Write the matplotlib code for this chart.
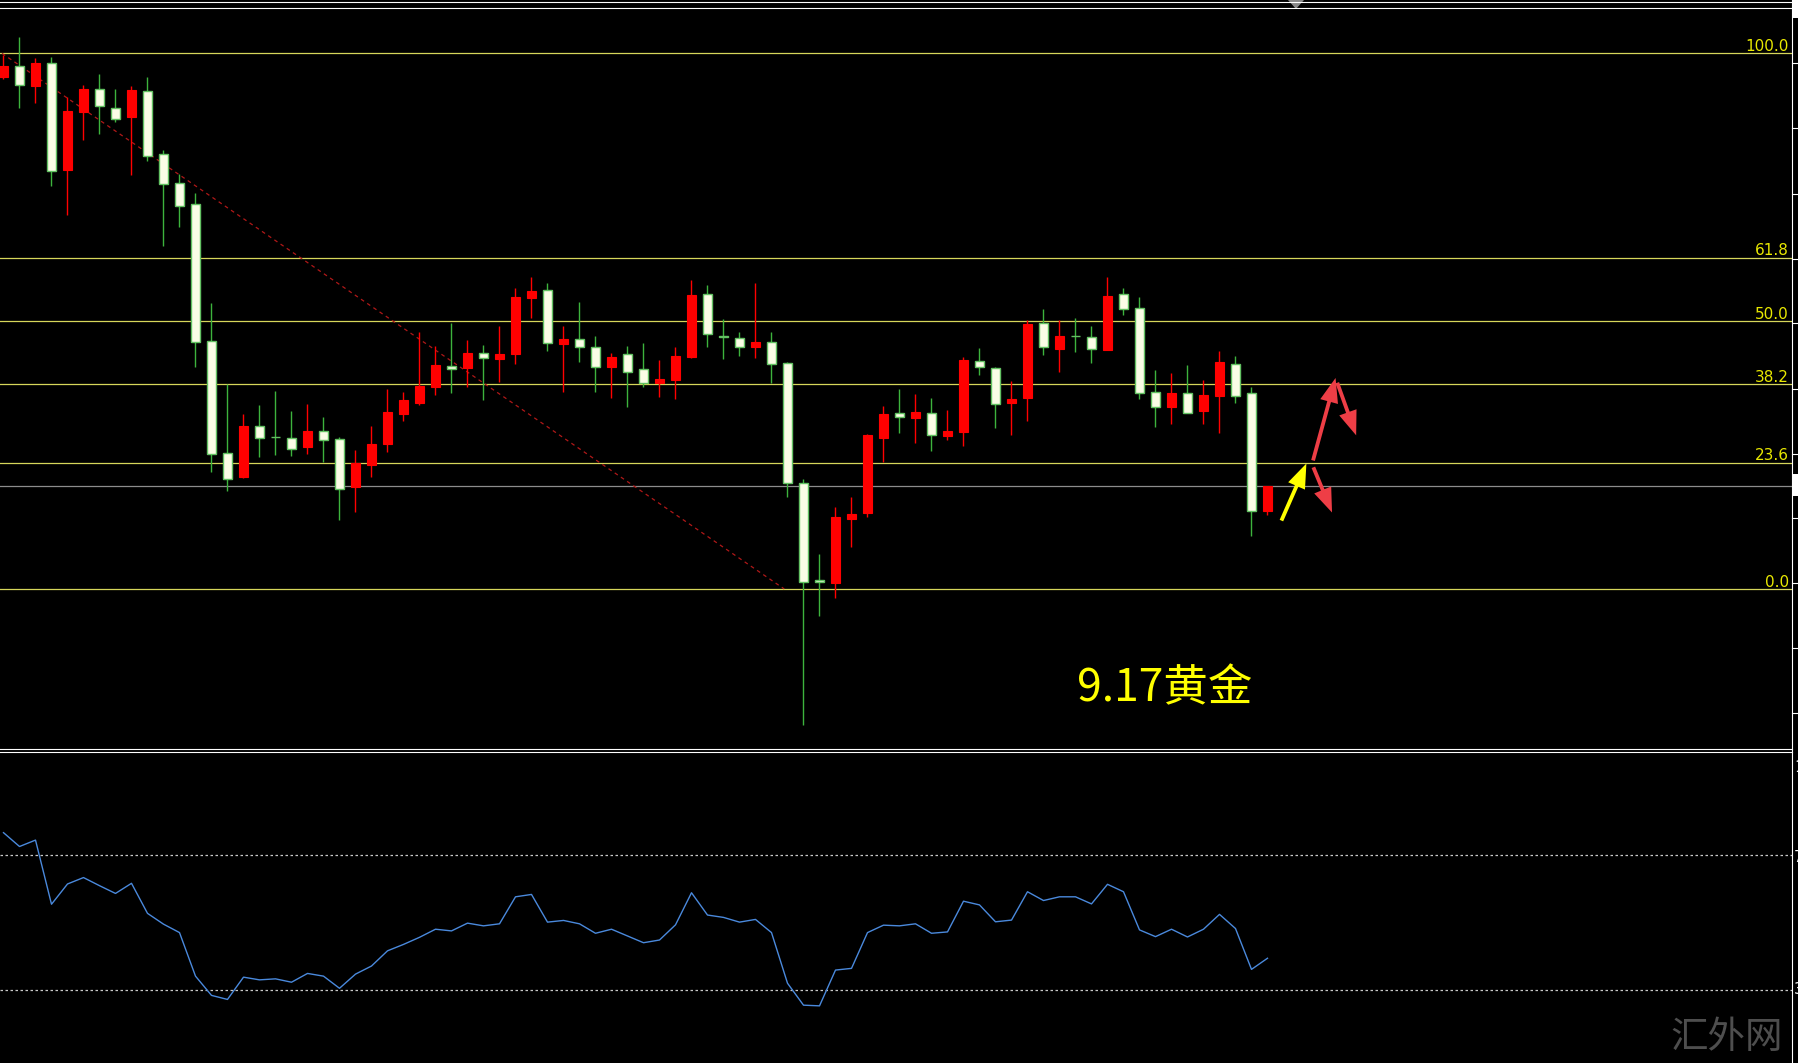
import matplotlib
matplotlib.use("Agg")
import matplotlib.pyplot as plt
from matplotlib.lines import Line2D
from matplotlib.patches import Rectangle, Polygon, FancyArrowPatch
import numpy as np

# ---------------- data (price expressed in Fibonacci-% units) ----------------
open_ = [95.6, 97.6, 94.0, 98.3, 78.2, 89.0, 93.4, 89.8, 88.1, 92.9,
         81.3, 75.8, 71.9, 46.3, 25.3, 20.9, 30.4, 28.4, 28.2, 26.5,
         29.5, 28.0, 19.0, 23.2, 27.1, 32.7, 34.8, 37.8, 41.6, 41.3,
         44.1, 43.0, 43.9, 54.4, 55.8, 45.8, 46.7, 45.2, 41.5, 43.9,
         41.1, 38.5, 39.0, 43.4, 55.1, 47.3, 46.9, 45.2, 46.1, 42.2,
         19.8, 1.7, 1.2, 13.1, 14.2, 28.2, 32.9, 32.0, 32.9, 28.6,
         29.4, 42.6, 41.3, 34.8, 35.7, 49.7, 44.8, 47.3, 47.1, 44.6,
         55.1, 52.5, 36.8, 33.9, 36.6, 33.3, 36.0, 42.0, 36.6, 14.6]
high = [99.7, 103.1, 99.1, 99.3, 91.9, 94.1, 96.2, 93.4, 93.9, 95.6,
        82.0, 77.5, 73.9, 53.4, 38.3, 32.7, 34.4, 37.0, 33.2, 34.5,
        32.1, 28.4, 26.0, 30.4, 37.3, 36.8, 48.0, 45.4, 49.7, 46.5,
        45.6, 49.1, 56.2, 58.3, 57.2, 49.1, 53.5, 47.2, 44.1, 45.4,
        46.0, 42.8, 45.2, 57.6, 56.8, 50.4, 48.0, 57.1, 47.9, 42.4,
        20.5, 6.5, 15.3, 17.2, 29.0, 34.2, 37.3, 36.4, 35.7, 33.4,
        43.3, 45.0, 41.4, 38.9, 50.2, 52.3, 50.2, 50.6, 49.1, 58.3,
        56.2, 54.5, 40.9, 40.4, 41.8, 39.0, 44.5, 43.5, 37.7, 19.2]
low = [95.2, 89.8, 90.7, 75.2, 69.8, 83.8, 85.0, 87.1, 77.3, 79.9,
       64.0, 67.6, 41.4, 21.8, 18.3, 20.7, 24.6, 25.0, 24.8, 25.2,
       23.7, 12.9, 14.3, 20.9, 25.6, 31.4, 34.4, 36.2, 36.6, 37.8,
       35.2, 38.7, 42.0, 50.6, 44.5, 36.8, 42.4, 36.8, 35.7, 34.0,
       37.7, 35.9, 35.5, 43.1, 45.2, 42.9, 43.5, 43.1, 38.5, 17.2,
       -25.4, -5.0, -1.6, 7.9, 13.5, 23.7, 29.2, 27.3, 25.8, 27.8,
       26.7, 40.0, 30.1, 28.8, 31.4, 43.7, 40.5, 44.3, 42.2, 44.6,
       51.2, 35.5, 30.2, 30.8, 32.9, 30.8, 29.2, 34.7, 9.9, 13.8]
close = [97.6, 94.1, 98.3, 78.0, 89.2, 93.4, 90.2, 87.8, 93.2, 80.9,
         75.6, 71.6, 46.1, 25.2, 20.5, 30.4, 28.2, 28.3, 26.1, 29.5,
         27.8, 18.7, 23.6, 27.1, 33.0, 35.3, 37.9, 41.8, 41.0, 44.1,
         43.1, 43.9, 54.6, 55.7, 45.9, 46.7, 45.2, 41.5, 43.4, 40.6,
         38.5, 39.2, 43.5, 54.9, 47.6, 47.0, 45.2, 46.1, 42.0, 19.8,
         1.4, 1.3, 13.5, 14.0, 28.8, 32.7, 32.1, 33.0, 28.8, 29.5,
         42.8, 41.4, 34.5, 35.5, 49.5, 45.2, 47.2, 47.2, 44.8, 54.7,
         52.3, 36.6, 34.0, 36.6, 32.9, 36.2, 42.3, 36.1, 14.6, 19.2]
rsi = [76.6, 72.5, 74.4, 55.4, 61.4, 63.3, 60.9, 58.6, 61.6, 52.7,
       49.5, 47.0, 34.1, 28.4, 27.2, 33.8, 33.0, 33.3, 32.3, 34.9,
       34.1, 30.5, 34.7, 37.1, 41.6, 43.5, 45.6, 48.0, 47.5, 49.8,
       49.0, 49.6, 57.6, 58.3, 50.1, 50.6, 49.6, 46.8, 48.0, 46.0,
       44.0, 44.8, 49.3, 58.8, 52.2, 51.5, 50.1, 50.9, 47.0, 32.0,
       25.5, 25.3, 35.9, 36.4, 47.0, 49.2, 49.0, 49.6, 46.8, 47.2,
       56.3, 55.2, 50.2, 50.7, 59.1, 56.5, 57.6, 57.6, 55.5, 61.3,
       59.1, 47.8, 45.8, 48.0, 45.7, 48.0, 52.4, 48.2, 36.1, 39.4]
fib_levels = [100.0, 61.8, 50.0, 38.2, 23.6, 0.0]
fib_labels = ["100.0", "61.8", "50.0", "38.2", "23.6", "0.0"]
rsi_levels = [70, 30]
title_text = "9.17黄金"
watermark = "汇外网"

# ---------------- figure ----------------
W, H = 1799, 1063
fig = plt.figure(figsize=(W / 100, H / 100), dpi=100, facecolor="black")


def fx(x):
    return x / W


def fy(y):
    return 1 - y / H


AX_RIGHT = 1792
ax = fig.add_axes([0, fy(748), fx(AX_RIGHT), (748 - 10) / H])
axr = fig.add_axes([0, fy(1063), fx(AX_RIGHT), (1063 - 753) / H])
for a in (ax, axr):
    a.set_facecolor("black")
    for s in a.spines.values():
        s.set_visible(False)
    a.set_xticks([])
    a.set_yticks([])

xmin, xmax = -3.5 / 16, (AX_RIGHT - 3.5) / 16
ax.set_xlim(xmin, xmax)
ax.set_ylim((589 - 748) / 5.356, (589 - 10) / 5.356)
axr.set_xlim(xmin, xmax)
axr.set_ylim(8.37, 100.2)

o = np.array(open_)
c = np.array(close)
hi = np.array(high)
lo = np.array(low)
x = np.arange(len(o))
bull = c > o
bear = ~bull

# fib lines
for lev, lab in zip(fib_levels, fib_labels):
    ax.axhline(lev, color="#d6d65a", lw=0.9, zorder=1)
    ax.annotate(lab, xy=(1, lev), xycoords=("axes fraction", "data"),
                xytext=(-3, 2.5), textcoords="offset pixels",
                ha="right", va="baseline", color="#e8e800", fontsize=11,
                family="DejaVu Sans")

# dashed diagonal of the fib tool
ax.plot([-0.09, 48.8], [100, 0], color="#b01818", lw=0.9,
        ls=(0, (3, 3)), zorder=2)

# current price line
ax.axhline(c[-1], color="#8c8c8c", lw=0.9, zorder=1)

# wicks
ax.vlines(x[bull], lo[bull], hi[bull], color="#ff0000", lw=1.0, zorder=3)
ax.vlines(x[bear], lo[bear], hi[bear], color="#3db33d", lw=1.0, zorder=3)
# bodies
bw = 0.62
ax.bar(x[bull], (c - o)[bull], bottom=o[bull], width=bw,
       color="#ff0000", edgecolor="#ff0000", lw=0.8, zorder=4)
ax.bar(x[bear], (o - c)[bear], bottom=c[bear], width=bw,
       color="#fbfde6", edgecolor="#62c162", lw=1.0, zorder=4)

# arrows (hand drawn annotations)
def arrow(p0, p1, col):
    ap = FancyArrowPatch(p0, p1, arrowstyle="simple,head_length=1.6,head_width=1.2,tail_width=0.25",
                         mutation_scale=11, color=col, lw=0, zorder=6)
    ax.add_patch(ap)

arrow((79.8, 12.3), (81.5, 23.9), "#ffff00")
arrow((81.8, 23.5), (83.3, 39.9), "#ee3e46")
arrow((83.3, 39.0), (84.6, 28.2), "#ee3e46")
arrow((81.8, 23.2), (83.1, 13.8), "#ee3e46")

fig.text(fx(1077), fy(701), title_text, color="#ffff00", fontsize=32,
         family=["Noto Sans CJK SC", "DejaVu Sans"], ha="left", va="baseline")

# RSI panel
for lv in rsi_levels:
    axr.axhline(lv, color="#c8c8c8", lw=0.9, ls=(0, (2, 2)))
axr.plot(x, rsi, color="#4a89dc", lw=1.0)

# watermark
fig.text(fx(1670), fy(1048), watermark, color="#4e4e4e", fontsize=27,
         family=["Noto Sans CJK SC", "DejaVu Sans"], ha="left", va="baseline")

# frame decorations
for yy in (2, 8, 749, 752):
    fig.add_artist(Line2D([0, fx(AX_RIGHT)], [fy(yy), fy(yy)], color="white", lw=0.8))
fig.add_artist(Line2D([fx(AX_RIGHT), fx(AX_RIGHT)], [0, 1], color="white", lw=0.8))
fig.add_artist(Rectangle((fx(1793), fy(18)), fx(6), 18 / H, color="white", lw=0))
fig.add_artist(Rectangle((fx(1793), fy(496)), fx(6), 22 / H, color="white", lw=0))
for ty in (63, 128, 194, 259, 323, 389, 454, 518, 583, 648, 713):
    fig.add_artist(Line2D([fx(1792), fx(1797)], [fy(ty), fy(ty)], color="white", lw=0.8))
fig.add_artist(Polygon([[fx(1288), fy(0)], [fx(1304), fy(0)], [fx(1296), fy(9)]],
                       closed=True, color="#8a8a8a", lw=0))
for lab, yy in (("100", 767), ("70", 857), ("30", 990)):
    fig.text(fx(1794), fy(yy), lab, color="white", fontsize=11, va="center", ha="left")

fig.savefig("out.png", dpi=100, facecolor="black")
